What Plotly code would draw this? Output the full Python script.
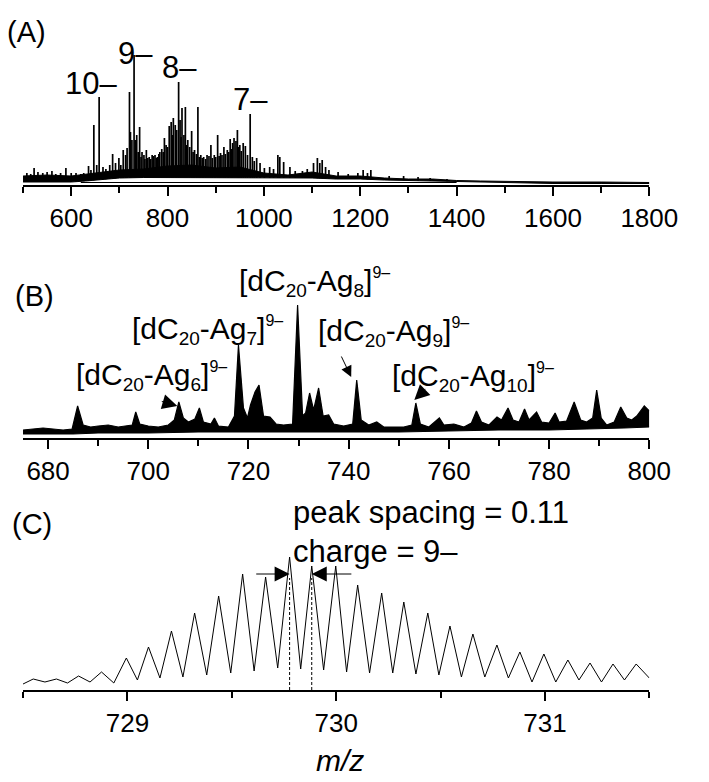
import plotly.graph_objects as go

# ---------------------------------------------------------------- data ----
# (A) full-range ESI spectrum: prominent peaks (m/z, intensity a.u.)
A_peak_mz = [508, 516, 523, 531, 541, 550, 560, 568, 578, 589, 600, 610, 620, 626,
             636, 641, 647, 653, 658, 666, 672, 680, 686, 692, 699, 703, 708, 713, 716,
             721, 723, 726, 730.5, 733, 736, 739, 742, 745, 747, 751, 753, 756, 759,
             762, 765, 768, 771, 774, 777, 779, 782, 784, 788, 791, 793.5, 797, 800,
             803.5, 807.5, 810, 812, 816, 819, 823, 826, 828, 830, 834,
             837, 840, 842, 846, 850, 853, 856, 860, 863, 866, 869, 872, 875, 879, 882,
             886, 890, 893, 897, 900, 904, 907, 910, 913, 917, 920, 924, 927, 930, 933,
             935, 938, 942, 945, 948, 950, 953, 957, 961.5, 966, 971.5, 976, 980, 985,
             992, 1001, 1012, 1020, 1029, 1033, 1041, 1054, 1065, 1080, 1090, 1103,
             1111, 1116, 1121, 1128, 1135, 1154, 1175, 1195, 1206, 1215, 1222, 1260,
             1290, 1320, 1345, 1380]
A_peak_int = [12, 11, 17, 13, 12, 13, 14, 11, 12, 17, 12, 12, 11, 12,
              19, 15, 60, 20, 88, 18, 16, 20, 31, 22, 27, 20, 35, 30, 37,
              93, 53, 45, 130, 45, 50, 33, 58, 28, 33, 30, 26, 35, 27,
              28, 26, 30, 29, 30, 27, 28, 31, 33, 36, 33, 47, 40, 38,
              59, 63, 50, 67, 60, 55, 103, 65, 48, 77, 50,
              78, 40, 45, 38, 54, 33, 35, 31, 78, 28, 30, 27, 28, 26, 30,
              29, 40, 27, 30, 28, 50, 29, 32, 30, 38, 31, 35, 33, 46, 36,
              42, 47, 44, 55, 38, 40, 34, 42, 39, 30, 71, 28, 24, 27,
              22, 17, 18, 16, 30, 28, 23, 18, 14, 14, 16, 22,
              27, 22, 25, 18, 15, 13, 11, 12, 15, 12, 15, 9,
              9, 8, 7, 6]
# (A) noise band: upper and lower envelopes, plus the thin baseline
A_env_mz = [500, 550, 600, 630, 650, 680, 700, 750, 800, 850, 900, 950, 1000,
            1050, 1100, 1150, 1200, 1250, 1300, 1350, 1400, 1450, 1500, 1600, 1700, 1800]
A_env_top = [9, 10, 9, 11, 12, 14, 15, 16, 19, 20, 17, 18, 12,
             10, 13, 9, 9, 7, 6, 6, 4.5, 4, 3.5, 3, 3, 2.5]
A_env_low = [3, 3, 3, 4, 5, 6, 7, 7.5, 7.5, 7.5, 7.5, 7.5, 7,
             7, 7, 6, 6, 5, 4.5, 4, 3, 2.5, 2, 1.5, 1.5, 1.5]
A_base_mz = [620, 800, 1000, 1200, 1400]
A_base_int = [2.5, 2.5, 2.5, 2.5, 2.5]

# (B) zoom 675-800: upper profile of the spectrum and its lower envelope
B_mz = [675, 677, 679, 681, 683, 684.8, 685.9, 687, 688.5, 690, 692, 694, 696,
        696.8, 697.5, 698.3, 700, 702, 704, 705.2, 706.1, 707, 708, 709.3, 710.2,
        711, 712.5, 713.2, 714, 716, 717.2, 718, 719, 719.8, 720.4, 721.3, 722.1,
        723, 724.3, 725.5, 727, 728.8, 729.8, 730.8, 731.4, 732.2, 733, 734, 734.9,
        736, 737, 739, 740.8, 741.6, 742.5, 744, 745.6, 747, 749, 751, 752.6, 753.4,
        754.3, 756, 758.1, 759, 761, 763, 764.5, 765.5, 766.5, 768, 769.6, 770.5,
        771.8, 772.8, 774, 775.1, 776, 777.5, 778.5, 780, 781.2, 782, 783.5, 785,
        786.3, 787.5, 788.7, 789.5, 790.4, 791.5, 793, 794.3, 795.5, 796.5, 797.5,
        799, 800]
B_int = [8, 9, 10, 9, 8, 9, 32, 13, 11, 12, 13, 11, 12,
         13, 26, 14, 12, 11, 13, 18, 36, 20, 16, 19, 30,
         16, 14, 20, 12, 11, 22, 93, 30, 20, 33, 46, 53,
         22, 21, 14, 13, 14, 133, 22, 25, 45, 28, 50, 22,
         23, 14, 12, 14, 58, 18, 13, 16, 11, 11, 11, 13, 35,
         14, 11, 20, 13, 14, 11, 15, 27, 16, 13, 21, 18,
         30, 18, 16, 29, 18, 26, 16, 15, 25, 16, 17, 36,
         18, 16, 20, 48, 20, 13, 16, 31, 20, 18, 22,
         32, 27]
B_low_mz = [675, 685, 690, 700, 710, 720, 730, 740, 750, 760, 770, 780, 790, 795, 800]
B_low_int = [4, 4, 5, 5, 6, 6, 6, 6, 6, 7, 8, 8, 9, 10, 11]

# (C) isotope envelope of the 9- ion: apexes and the minima between them
C_peak_mz = [728.549, 728.660, 728.766, 728.876, 728.995, 729.101, 729.211,
             729.322, 729.437, 729.552, 729.662, 729.777, 729.883, 729.998,
             730.103, 730.218, 730.324, 730.439, 730.545, 730.655, 730.770,
             730.880, 730.995, 731.110, 731.216, 731.326, 731.437]
C_peak_int = [11, 11, 14, 18, 32, 43, 59, 77, 94, 116, 113, 133, 124, 124,
              105, 97, 88, 77, 64, 56, 45, 38, 36, 30, 27, 26, 26]
C_valley_mz = [728.500, 728.605, 728.713, 728.821, 728.935, 729.048, 729.156,
               729.266, 729.380, 729.495, 729.607, 729.720, 729.830, 729.940,
               730.050, 730.160, 730.271, 730.382, 730.492, 730.600, 730.712,
               730.825, 730.938, 731.052, 731.163, 731.271, 731.381, 731.500]
C_valley_int = [6, 8, 7, 8, 7, 10, 12, 13, 15, 17, 19, 22, 21, 20,
                18, 17, 17, 16, 15, 13, 13, 12, 8, 8, 10, 8, 10, 12]

# peak spacing marked in (C)
C_mark_mz = [729.777, 729.883]

# ---------------------------------------------------------------- style ---
W, H = 709, 782
FONT = "Liberation Sans, Arial, sans-serif"
INK = "black"


def fx(p):
    return p / W


def fy(p):
    return 1 - p / H


fig = go.Figure()

# (A) spikes, noise band and baseline
sx, sy = [], []
for m, v in zip(A_peak_mz, A_peak_int):
    sx += [m, m, None]
    sy += [0, v, None]
fig.add_trace(go.Scatter(x=sx, y=sy, mode="lines", line=dict(color=INK, width=1.7),
                         xaxis="x", yaxis="y", hoverinfo="skip"))
fig.add_trace(go.Scatter(x=A_env_mz, y=A_env_low, mode="lines", fill="tozeroy",
                         fillcolor="white", line=dict(color=INK, width=1),
                         xaxis="x", yaxis="y"))
fig.add_trace(go.Scatter(x=A_env_mz, y=A_env_top, mode="lines", fill="tonexty",
                         fillcolor=INK, line=dict(color=INK, width=1),
                         xaxis="x", yaxis="y"))
fig.add_trace(go.Scatter(x=A_base_mz, y=A_base_int, mode="lines",
                         line=dict(color=INK, width=1), xaxis="x", yaxis="y"))

# (B) filled spectrum
fig.add_trace(go.Scatter(x=B_low_mz, y=B_low_int, mode="lines",
                         line=dict(color=INK, width=1.2), xaxis="x2", yaxis="y2"))
fig.add_trace(go.Scatter(x=B_mz, y=B_int, mode="lines", fill="tonexty",
                         fillcolor=INK, line=dict(color=INK, width=1.2),
                         xaxis="x2", yaxis="y2"))

# (C) isotope profile: apexes and minima merged in m/z order
c_pts = sorted(list(zip(C_peak_mz, C_peak_int)) + list(zip(C_valley_mz, C_valley_int)))
fig.add_trace(go.Scatter(x=[p[0] for p in c_pts], y=[p[1] for p in c_pts], mode="lines",
                         line=dict(color=INK, width=1), xaxis="x3", yaxis="y3"))
# dashed markers under the two neighbouring apexes
for m in C_mark_mz:
    fig.add_trace(go.Scatter(x=[m, m], y=[0, 112], mode="lines",
                             line=dict(color=INK, width=1, dash="3px,2px"),
                             xaxis="x3", yaxis="y3"))


def xaxis(rng, dtick, minor, **kw):
    d = dict(range=rng, domain=[fx(24), fx(677)], showline=True, linewidth=2,
             linecolor=INK, ticks="outside", ticklen=9, tickwidth=2, tickcolor=INK,
             tick0=0, dtick=dtick, showgrid=False, zeroline=False,
             minor=dict(dtick=minor, tick0=0, ticks="outside", ticklen=6, tickwidth=2,
                        tickcolor=INK, showgrid=False),
             tickfont=dict(family=FONT, size=26, color=INK))
    d.update(kw)
    return d


fig.update_layout(
    width=W, height=H, margin=dict(l=0, r=0, t=0, b=0),
    paper_bgcolor="white", plot_bgcolor="white", showlegend=False,
    font=dict(family=FONT, color=INK),
    xaxis=xaxis([500, 1800], 200, 100, anchor="y"),
    yaxis=dict(domain=[fy(185), fy(50)], range=[0, 135], visible=False),
    xaxis2=xaxis([675, 800], 20, 10, anchor="y2"),
    yaxis2=dict(domain=[fy(438), fy(300)], range=[0, 138], visible=False),
    xaxis3=xaxis([728.5, 731.5], 1, 0.5, anchor="y3"),
    yaxis3=dict(domain=[fy(690), fy(552)], range=[0, 138], visible=False),
)

ann = []


def label(text, x, y, size, xanchor="left", yanchor="middle"):
    ann.append(dict(text=text, x=fx(x), y=fy(y), xref="paper", yref="paper",
                    xanchor=xanchor, yanchor=yanchor, showarrow=False,
                    font=dict(family=FONT, size=size, color=INK)))


# panel letters
label("(A)", 5, 32, 29)
label("(B)", 14, 296, 29)
label("(C)", 10, 524, 29)

# charge states in (A)
label("10–", 66, 84, 31)
label("9–", 121, 53, 31)
label("8–", 167, 68, 31)
label("7–", 241, 100, 31)

# cluster assignments in (B)
SUB = '<sub><span style="font-size:19px">%s</span></sub>'
SUP = '<sup><span style="font-size:16px">9–</span></sup>'


def cluster(n):
    return "[dC" + SUB % "20" + "-Ag" + SUB % n + "]" + SUP


label(cluster(8), 247, 282, 30)
label(cluster(7), 136, 330, 30)
label(cluster(6), 77, 376, 30)
label(cluster(9), 329, 333, 30)
label(cluster(10), 407, 377, 30)

# isotope spacing note in (C)
label("peak spacing = 0.11", 303, 512, 31)
label("charge = 9–", 303, 551, 31)

# axis title
label("<i>m/z</i>", 354, 760, 30, xanchor="center")


def arrow(x, y, ax, ay, xa, ya, size=2.6):
    ann.append(dict(x=x, y=y, ax=ax, ay=ay, xref=xa, yref=ya, axref=xa, ayref=ya,
                    text="", showarrow=True, arrowhead=2, arrowsize=size,
                    arrowwidth=1, arrowcolor=INK, standoff=0))


# arrows to the Ag6, Ag9 and Ag10 clusters
arrow(705.8, 32, 702.4, 37, "x2", "y2", 3)
arrow(740.5, 61, 738.4, 83, "x2", "y2", 2.2)
arrow(753.1, 38, 755.6, 50, "x2", "y2", 3)
# spacing arrows between the two marked apexes
arrow(C_mark_mz[0], 116, 729.61, 116, "x3", "y3", 3)
arrow(C_mark_mz[1], 116, 730.08, 116, "x3", "y3", 3)

fig.update_layout(annotations=ann)
fig.write_html("out.html")
